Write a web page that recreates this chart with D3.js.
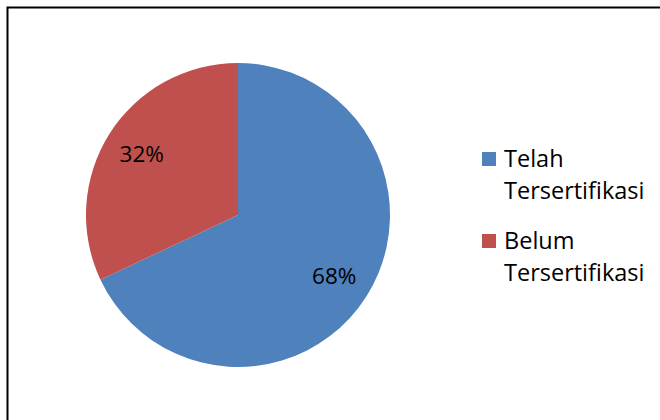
<!DOCTYPE html>
<html><head><meta charset="utf-8">
<script src="https://cdn.jsdelivr.net/npm/d3@7"></script>
<style>html,body{margin:0;padding:0;background:#fff;}svg{display:block;}</style>
</head><body>
<svg id="c" width="660" height="420"></svg>
<script>
const categories = ["Telah Tersertifikasi", "Belum Tersertifikasi"];
const legendLines = [["Telah", "Tersertifikasi"], ["Belum", "Tersertifikasi"]];
const values = [68, 32];
const colors = ["#4F81BD", "#C0504D"];

const svg = d3.select("#c");
const font = "'Open Sans', 'Noto Sans', sans-serif";

// border
svg.append("path").attr("d", "M7.5,421 L7.5,7.5 L661,7.5")
  .attr("fill", "none").attr("stroke", "#000").attr("stroke-width", 2);

const cx = 238, cy = 215, r = 152;
const g = svg.append("g").attr("transform", `translate(${cx},${cy})`);
const pie = d3.pie().sort(null).value(d => d);
const arcs = pie(values);
const arc = d3.arc().innerRadius(0).outerRadius(r);
const labelArc = d3.arc().innerRadius(r * 0.75).outerRadius(r * 0.75);

g.selectAll("path.slice").data(arcs).join("path")
  .attr("class", "slice")
  .attr("d", arc)
  .attr("fill", (d, i) => colors[i]);

const total = d3.sum(values);
g.selectAll("text.lbl").data(arcs).join("text")
  .attr("class", "lbl")
  .attr("transform", d => { const c = labelArc.centroid(d); return `translate(${c[0]},${c[1] + 8})`; })
  .attr("text-anchor", "middle")
  .attr("font-family", font).attr("font-size", 22.5).attr("fill", "#000")
  .text(d => Math.round(d.data / total * 100) + "%");

// legend
const lg = svg.append("g").attr("transform", "translate(482,152)");
const items = lg.selectAll("g").data(categories).join("g")
  .attr("transform", (d, i) => `translate(0,${i * 82})`);
items.append("rect").attr("width", 14).attr("height", 14).attr("fill", (d, i) => colors[i]);
items.each(function(d, i) {
  const t = d3.select(this).append("text")
    .attr("font-family", font).attr("font-size", 23.5).attr("fill", "#000");
  legendLines[i].forEach((ln, j) => {
    t.append("tspan").attr("x", 22).attr("y", 15 + j * 32).text(ln);
  });
});
</script>
</body></html>
